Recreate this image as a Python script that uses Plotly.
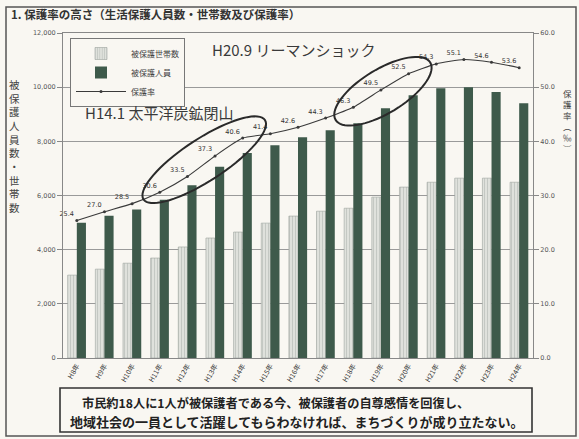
import math
import plotly.graph_objects as go

# ---------------- data ----------------
years = ["H8年", "H9年", "H10年", "H11年", "H12年", "H13年", "H14年", "H15年", "H16年",
         "H17年", "H18年", "H19年", "H20年", "H21年", "H22年", "H23年", "H24年"]
households = [3060, 3280, 3500, 3690, 4100, 4430, 4650, 4980, 5240,
              5420, 5530, 5940, 6310, 6490, 6640, 6640, 6490]
persons = [4990, 5250, 5480, 5840, 6380, 7060, 7570, 7860, 8150,
           8410, 8670, 9220, 9700, 9960, 10000, 9820, 9410]
rate = [25.4, 27.0, 28.5, 30.6, 33.5, 37.3, 40.6, 41.4, 42.6,
        44.3, 46.3, 49.5, 52.5, 54.3, 55.1, 54.6, 53.6]
left_ticks = [0, 2000, 4000, 6000, 8000, 10000, 12000]
right_ticks = [0, 10, 20, 30, 40, 50, 60]

# ---------------- layout constants ----------------
W, H = 579, 439
ML, MR, MT, MB = 63, 46, 33, 81
PW, PH = W - ML - MR, H - MT - MB
N = len(years)
CW = PW / N
KY = PH / 60.0
FONT = "Noto Sans CJK JP"
BG = "#f9f7f2"


def to_px(i, v):
    return ML + (i + 0.5) * CW, MT + PH - v * KY


def to_data(px, py):
    return (px - ML) / CW - 0.5, (MT + PH - py) / KY


def px_x(px):
    return (px - ML) / PW


def px_y(py):
    return (MT + PH - py) / PH


def ellipse_path(i0, i1, extra, b, dx, dy, n=72):
    p0 = to_px(i0, rate[i0])
    p1 = to_px(i1, rate[i1])
    pts = [to_px(i, rate[i]) for i in range(i0, i1 + 1)]
    cx = sum(p[0] for p in pts) / len(pts) + dx
    cy = sum(p[1] for p in pts) / len(pts) + dy
    ang = math.atan2(p1[1] - p0[1], p1[0] - p0[0])
    a = math.hypot(p1[0] - p0[0], p1[1] - p0[1]) / 2 + extra
    seg = []
    for k in range(n + 1):
        t = 2 * math.pi * k / n
        ex, ey = a * math.cos(t), b * math.sin(t)
        px = cx + ex * math.cos(ang) - ey * math.sin(ang)
        py = cy + ex * math.sin(ang) + ey * math.cos(ang)
        x, y = to_data(px, py)
        seg.append(("M" if k == 0 else "L") + f"{x:.4f},{y:.4f}")
    return " ".join(seg) + " Z"


xs = list(range(N))

fig = go.Figure()
fig.add_trace(go.Bar(
    x=xs, y=households, name="被保護世帯数",
    marker=dict(color="#d6d9d3", line=dict(color="#9ca39d", width=0.6),
                pattern=dict(shape="|", fgcolor="#a9b0aa", bgcolor="#dfe1dc", size=3, solidity=0.35)),
))
fig.add_trace(go.Bar(
    x=xs, y=persons, name="被保護人員",
    marker=dict(color="#3e5a4b", line=dict(width=0)),
))
fig.add_trace(go.Scatter(
    x=xs, y=rate, name="保護率", yaxis="y2",
    mode="lines+markers+text", cliponaxis=False,
    line=dict(color="#3a3a3a", width=1.1, shape="spline", smoothing=0.5),
    marker=dict(size=3, color="#3a3a3a"),
    text=[f"{v:.1f}" for v in rate], textposition="top left",
    textfont=dict(size=6.5, color="#333", family="DejaVu Sans"),
))

shapes = [
    dict(type="path", xref="x", yref="y2", path=ellipse_path(3, 6, 23, 21, 3, -6),
         line=dict(color="#2a2a2a", width=2)),
    dict(type="path", xref="x", yref="y2", path=ellipse_path(10, 12, 23, 22, 2, 1),
         line=dict(color="#2a2a2a", width=2)),
    # bottom message box
    dict(type="rect", xref="paper", yref="paper",
         x0=px_x(60), x1=px_x(532), y0=px_y(432), y1=px_y(388),
         line=dict(color="#333", width=1.6), fillcolor="rgba(0,0,0,0)"),
    # outer frame
    dict(type="rect", xref="paper", yref="paper",
         x0=px_x(6), x1=px_x(576), y0=px_y(436), y1=px_y(7),
         line=dict(color="#555", width=1.5), fillcolor="rgba(0,0,0,0)"),
]

annotations = [
    dict(xref="paper", yref="paper", x=px_x(9), y=px_y(14), xanchor="left", yanchor="middle",
         text="<b>1. 保護率の高さ（生活保護人員数・世帯数及び保護率）</b>", showarrow=False,
         font=dict(size=11.5, color="#333", family=FONT)),
    dict(xref="paper", yref="paper", x=px_x(210), y=px_y(50), xanchor="left", yanchor="middle",
         text="H20.9 リーマンショック", showarrow=False,
         font=dict(size=15, color="#3a3a3a", family=FONT)),
    dict(xref="paper", yref="paper", x=px_x(83), y=px_y(112), xanchor="left", yanchor="middle",
         text="H14.1 太平洋炭鉱閉山", showarrow=False,
         font=dict(size=15, color="#3a3a3a", family=FONT)),
    dict(xref="paper", yref="paper", x=px_x(14), y=px_y(146), xanchor="center", yanchor="middle",
         text="<br>".join(list("被保護人員数・世帯数")), showarrow=False,
         font=dict(size=10.5, color="#444", family=FONT)),
    dict(xref="paper", yref="paper", x=px_x(567), y=px_y(120), xanchor="center", yanchor="middle",
         text="<br>".join(["保", "護", "率", "︵", "‰", "︶"]), showarrow=False,
         font=dict(size=8.5, color="#444", family=FONT)),
    dict(xref="paper", yref="paper", x=px_x(80), y=px_y(403), xanchor="left", yanchor="middle",
         text="<b>市民約18人に1人が被保護者である今、被保護者の自尊感情を回復し、</b>", showarrow=False,
         font=dict(size=12.2, color="#222", family=FONT)),
    dict(xref="paper", yref="paper", x=px_x(68), y=px_y(421), xanchor="left", yanchor="middle",
         text="<b>地域社会の一員として活躍してもらわなければ、まちづくりが成り立たない。</b>", showarrow=False,
         font=dict(size=13, color="#222", family=FONT)),
]

fig.update_layout(
    width=W, height=H,
    margin=dict(l=ML, r=MR, t=MT, b=MB, pad=0),
    paper_bgcolor=BG, plot_bgcolor=BG,
    barmode="group", bargap=0.34, bargroupgap=0.0,
    font=dict(family=FONT, color="#444"),
    shapes=shapes, annotations=annotations,
    legend=dict(x=px_x(70), y=px_y(38), xanchor="left", yanchor="top",
                bgcolor=BG, bordercolor="#777", borderwidth=1,
                font=dict(size=8, color="#444", family=FONT),
                itemwidth=50, tracegroupgap=0, traceorder="normal"),
    xaxis=dict(range=[-0.5, N - 0.5], tickmode="array", tickvals=xs, ticktext=years,
               tickangle=-60, tickfont=dict(size=7, color="#333", family=FONT),
               showgrid=False, showline=True, mirror=True, linecolor="#888", linewidth=1,
               ticks="", zeroline=False),
    yaxis=dict(range=[0, 12000], tickmode="array", tickvals=left_ticks,
               ticktext=[f"{v:,}" for v in left_ticks],
               tickfont=dict(size=6.5, color="#555", family="DejaVu Sans"),
               showgrid=True, gridcolor="#9a9a9a", gridwidth=1,
               showline=True, mirror=True, linecolor="#888", linewidth=1,
               ticks="outside", ticklen=5, tickcolor="#888", zeroline=False),
    yaxis2=dict(range=[0, 60], overlaying="y", side="right", tickmode="array",
                tickvals=right_ticks, ticktext=[f"{v:.1f}" for v in right_ticks],
                tickfont=dict(size=6.5, color="#555", family="DejaVu Sans"),
                showgrid=False, ticks="outside", ticklen=5, tickcolor="#888",
                showline=False, zeroline=False),
)

fig.write_html("out.html", config={"displayModeBar": False},
               post_script="document.body.style.margin='0';")
